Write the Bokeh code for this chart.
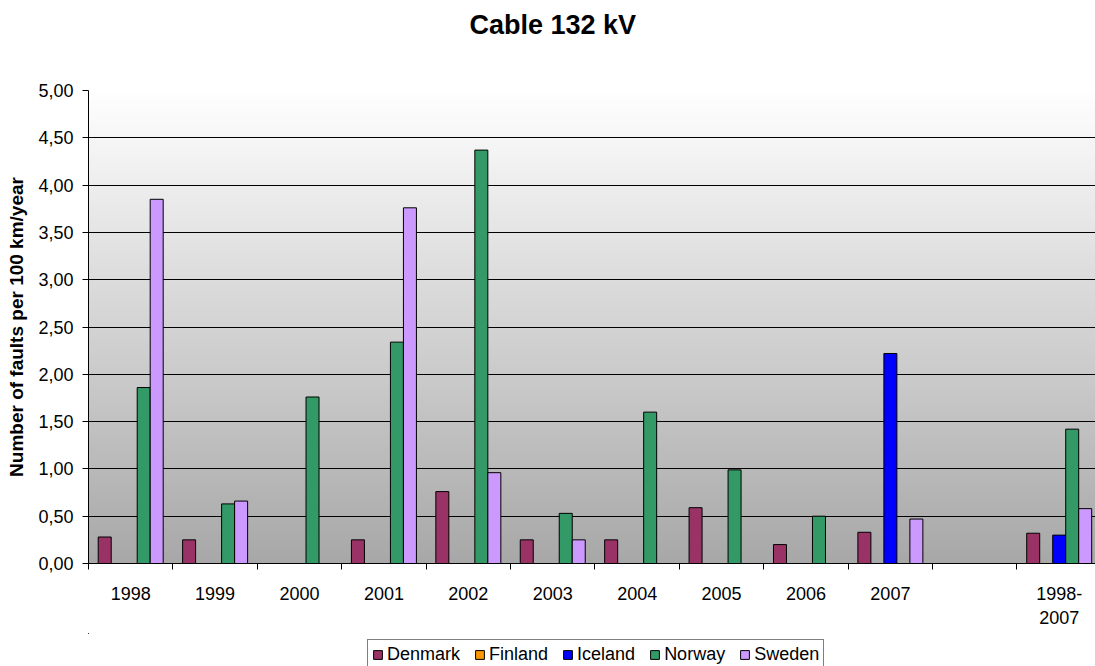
import numpy as np
from bokeh.plotting import figure
from bokeh.layouts import column
from bokeh.models import (FixedTicker, Range1d, Legend, LegendItem, Label,
                          ColumnDataSource, LinearColorMapper)
from bokeh.embed import file_html
from bokeh.resources import INLINE

# ---------------- data ----------------
categories = ["1998", "1999", "2000", "2001", "2002", "2003", "2004", "2005",
              "2006", "2007", "", "1998-\n2007"]
denmark = [0.28, 0.25, None, 0.25, 0.76, 0.25, 0.25, 0.59, 0.20, 0.33, None, 0.32]
finland = [None, None, None, None, None, None, None, None, None, None, None, None]
iceland = [None, None, None, None, None, None, None, None, None, 2.22, None, 0.30]
norway = [1.86, 0.63, 1.76, 2.34, 4.37, 0.53, 1.60, 0.99, 0.50, None, None, 1.42]
sweden = [3.85, 0.66, None, 3.76, 0.96, 0.25, None, None, None, 0.47, None, 0.58]
series_names = ["Denmark", "Finland", "Iceland", "Norway", "Sweden"]
series_values = [denmark, finland, iceland, norway, sweden]
colors = ["#993366", "#FF9900", "#0000FF", "#339966", "#CC99FF"]
y_ticks = [0.0, 0.5, 1.0, 1.5, 2.0, 2.5, 3.0, 3.5, 4.0, 4.5, 5.0]
y_tick_labels = ["0,00", "0,50", "1,00", "1,50", "2,00", "2,50", "3,00",
                 "3,50", "4,00", "4,50", "5,00"]
chart_title = "Cable 132 kV"

FONT = "Liberation Sans"
n = len(categories)
x_end = 11.93
bar_w = 0.154
W = 1095
LEFT = 88


def strip(height):
    # the column aligns frames, so the strip's frame spans LEFT..W
    f = figure(width=W, height=height, output_backend="svg", toolbar_location=None,
               x_range=Range1d(LEFT, W), y_range=Range1d(height, 0),
               x_axis_location=None, y_axis_location=None, title=None,
               min_border_left=LEFT, min_border_right=0, min_border_top=0,
               min_border_bottom=0)
    f.grid.visible = False
    f.outline_line_color = None
    f.background_fill_color = "white"
    f.border_fill_color = "white"
    return f


# ---------------- title strip ----------------
header = strip(80)
header.add_layout(Label(x=469, y=24, text=chart_title, text_font=FONT,
                        text_font_size="27px", text_font_style="bold",
                        text_color="black", text_align="left",
                        text_baseline="alphabetic"))

# ---------------- main chart ----------------
p = figure(width=W, height=553, output_backend="svg", toolbar_location=None,
           x_range=Range1d(0, x_end), y_range=Range1d(0, 5),
           min_border_left=LEFT, min_border_right=0, min_border_top=10,
           min_border_bottom=70)
p.background_fill_color = "white"
p.border_fill_color = "white"
p.outline_line_color = None

# gradient background of the plot area
grad = np.linspace(0, 255, 256).reshape(256, 1)
grays = ["#%02x%02x%02x" % (v, v, v) for v in np.linspace(168, 255, 256).astype(int)]
mapper = LinearColorMapper(palette=grays, low=0, high=255)
p.image(image=[grad], x=0, y=0, dw=x_end, dh=5, color_mapper=mapper, level="image")

# bars
for k, (name, vals, col) in enumerate(zip(series_names, series_values, colors)):
    xs = [i + 0.5 + (k - 2) * bar_w for i in range(n)]
    tops = [np.nan if v is None else v for v in vals]
    src = ColumnDataSource(dict(x=xs, top=tops))
    p.vbar(x="x", top="top", bottom=0, width=bar_w, source=src,
           fill_color=col, line_color="black", line_width=1)

# axes
p.xgrid.visible = False
p.ygrid.ticker = FixedTicker(ticks=y_ticks)
p.ygrid.grid_line_color = "black"
p.ygrid.grid_line_width = 1

p.yaxis.ticker = FixedTicker(ticks=y_ticks)
p.yaxis.major_label_overrides = {t: l for t, l in zip(y_ticks, y_tick_labels)}
p.yaxis.minor_tick_line_color = None
p.yaxis.major_tick_in = 0
p.yaxis.major_tick_out = 6
p.yaxis.axis_line_color = "black"
p.yaxis.major_label_text_font = FONT
p.yaxis.major_label_text_font_size = "18px"
p.yaxis.major_label_text_color = "black"
p.yaxis.major_label_standoff = 9
p.yaxis.axis_label = "Number of faults per 100 km/year"
p.yaxis.axis_label_text_font = FONT
p.yaxis.axis_label_text_font_size = "19px"
p.yaxis.axis_label_text_font_style = "bold"
p.yaxis.axis_label_text_color = "black"
p.yaxis.axis_label_standoff = 8

centers = [i + 0.5 for i in range(n)]
bounds = [float(i) for i in range(n + 1)]
p.xaxis.ticker = FixedTicker(ticks=centers, minor_ticks=bounds)
p.xaxis.major_label_overrides = {c: l for c, l in zip(centers, categories)}
p.xaxis.major_tick_in = 0
p.xaxis.major_tick_out = 0
p.xaxis.minor_tick_in = 0
p.xaxis.minor_tick_out = 6
p.xaxis.minor_tick_line_color = "black"
p.xaxis.axis_line_color = "black"
p.xaxis.major_label_text_font = FONT
p.xaxis.major_label_text_font_size = "18px"
p.xaxis.major_label_text_color = "black"
p.xaxis.major_label_standoff = 14

# ---------------- legend strip ----------------
q = strip(33)
items = []
for name, col in zip(series_names, colors):
    # off-screen proxy glyph so the legend can show the series swatch
    r = q.vbar(x=[0.0], top=[-60.0], bottom=-70.0, width=1, fill_color=col,
               line_color="black", line_width=1)
    items.append(LegendItem(label=name, renderers=[r]))
legend = Legend(items=items, orientation="horizontal", location=(367 - LEFT, -4),
                label_text_font=FONT, label_text_font_size="18px",
                label_text_color="black", glyph_width=11, glyph_height=11,
                label_standoff=4, spacing=14, padding=4, margin=0,
                border_line_color="black", border_line_width=1,
                background_fill_color="white", background_fill_alpha=1)
q.add_layout(legend, "center")

layout = column(header, p, q, spacing=0)
open("out.html", "w").write(file_html(layout, INLINE))
